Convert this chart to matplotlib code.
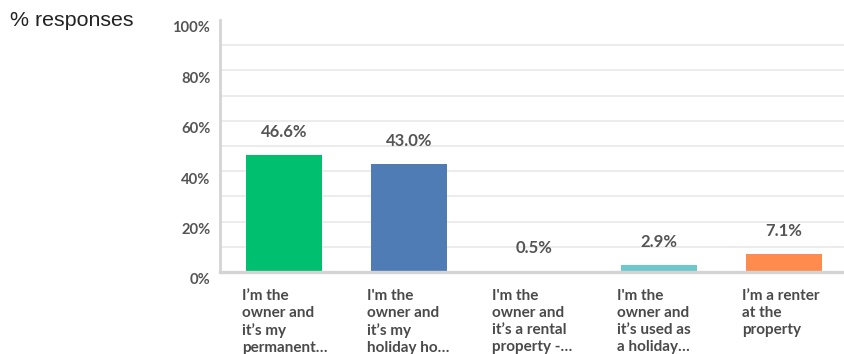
import matplotlib
matplotlib.use("Agg")
import matplotlib.pyplot as plt
import matplotlib.transforms as mtransforms

plt.rcParams['font.family'] = ['Lato', 'DejaVu Sans']

categories = [
    "I\u2019m the\nowner and\nit\u2019s my\npermanent\u2026",
    "I'm the\nowner and\nit\u2019s my\nholiday ho\u2026",
    "I'm the\nowner and\nit\u2019s a rental\nproperty -\u2026",
    "I'm the\nowner and\nit\u2019s used as\na holiday\u2026",
    "I\u2019m a renter\nat the\nproperty",
]
values = [46.6, 43.0, 0.5, 2.9, 7.1]
bar_colors = ["#00bf6f", "#507cb6", "#f05b24", "#6bc8cd", "#ff8b4f"]
tick_values = [0, 20, 40, 60, 80, 100]

W, H = 844, 354
fig = plt.figure(figsize=(W / 100, H / 100), dpi=100)
ax = fig.add_axes([220 / W, (H - 272) / H, 1 - 220 / W, (272 - 20) / H])

x = list(range(len(values)))
ax.bar(x, values, width=0.608, color=bar_colors, zorder=2)

ax.set_xlim(-0.512, 4.48)
ax.set_ylim(0, 100)

# light grid every 10%, none on the 100% line
for g in range(10, 100, 10):
    ax.axhline(g, color="#ebebeb", lw=1.3, zorder=1)

for s in ["top", "right"]:
    ax.spines[s].set_visible(False)
for s in ["left", "bottom"]:
    ax.spines[s].set_color("#d4d4d4")
    ax.spines[s].set_linewidth(2)
    ax.spines[s].set_zorder(3)
ax.spines["bottom"].set_linewidth(2.4)

ax.set_yticks(tick_values)
ax.set_yticklabels([f"{t}%" for t in tick_values], fontsize=10.6,
                   fontweight="bold", color="#555555")
ax.tick_params(axis="y", length=0, pad=7)
offset = mtransforms.ScaledTranslation(0, -7 / 100, fig.dpi_scale_trans)
for lbl in ax.get_yticklabels():
    lbl.set_transform(lbl.get_transform() + offset)

ax.set_xticks([])

# value labels above each bar
for xi, v in zip(x, values):
    ax.annotate(f"{v:.1f}%", (xi, v), xytext=(0, 23), textcoords="offset pixels",
                ha="center", va="center", fontsize=12, fontweight="bold",
                color="#555555")

# category labels under the bars, left aligned with the bar edge
for xi, cat in zip(x, categories):
    ax.annotate(cat, (xi - 0.304, 0), xytext=(-4, -17), textcoords="offset pixels",
                ha="left", va="top", fontsize=11, fontweight="bold",
                color="#4a4a4a", linespacing=1.27, annotation_clip=False)

fig.text(10 / W, 1 - 21 / H, "% responses", ha="left", va="center",
         fontsize=15.4, color="#222222", family=["Liberation Sans", "DejaVu Sans"])

fig.savefig("out.png", dpi=100)
